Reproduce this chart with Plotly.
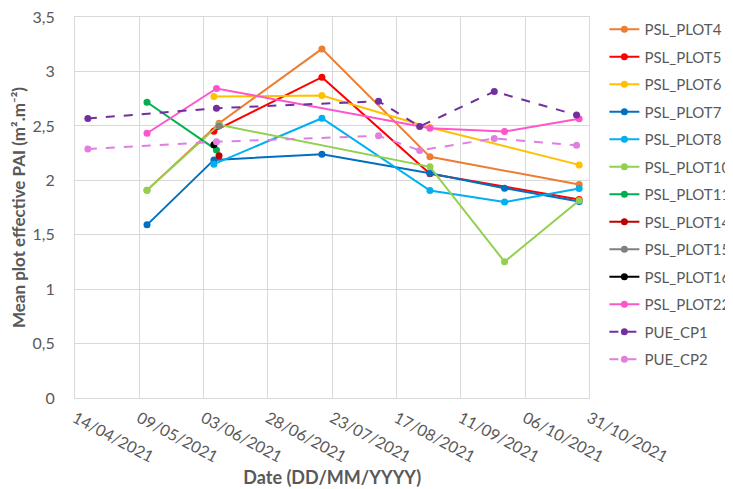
import plotly.graph_objects as go

# ---- data ----
series_names = ["PSL_PLOT4", "PSL_PLOT5", "PSL_PLOT6", "PSL_PLOT7", "PSL_PLOT8",
                "PSL_PLOT10", "PSL_PLOT11", "PSL_PLOT14", "PSL_PLOT15", "PSL_PLOT16",
                "PSL_PLOT22", "PUE_CP1", "PUE_CP2"]

plot4_dates = ["2021-05-12", "2021-06-09", "2021-07-19", "2021-08-30", "2021-10-27"]
plot4_vals = [1.91, 2.525, 3.208, 2.216, 1.962]
plot5_dates = ["2021-06-07", "2021-07-19", "2021-08-30", "2021-10-27"]
plot5_vals = [2.452, 2.948, 2.06, 1.825]
plot6_dates = ["2021-06-07", "2021-07-19", "2021-08-30", "2021-10-27"]
plot6_vals = [2.77, 2.78, 2.486, 2.142]
plot7_dates = ["2021-05-12", "2021-06-07", "2021-07-19", "2021-08-30", "2021-09-28", "2021-10-27"]
plot7_vals = [1.591, 2.188, 2.24, 2.066, 1.928, 1.806]
plot8_dates = ["2021-06-07", "2021-07-19", "2021-08-30", "2021-09-28", "2021-10-27"]
plot8_vals = [2.149, 2.571, 1.907, 1.80, 1.926]
plot10_dates = ["2021-05-12", "2021-06-09", "2021-08-30", "2021-09-28", "2021-10-27"]
plot10_vals = [1.91, 2.51, 2.124, 1.252, 1.815]
plot11_dates = ["2021-05-12", "2021-06-08"]
plot11_vals = [2.718, 2.28]
plot14_dates = ["2021-06-09"]
plot14_vals = [2.225]
plot15_dates = ["2021-06-09"]
plot15_vals = [2.50]
plot16_dates = ["2021-06-07"]
plot16_vals = [2.326]
plot22_dates = ["2021-05-12", "2021-06-08", "2021-08-30", "2021-09-28", "2021-10-27"]
plot22_vals = [2.433, 2.844, 2.479, 2.449, 2.565]
cp_dates = ["2021-04-19", "2021-06-08", "2021-08-10", "2021-08-26", "2021-09-24", "2021-10-26"]
cp1_vals = [2.568, 2.663, 2.727, 2.495, 2.816, 2.60]
cp2_vals = [2.287, 2.354, 2.409, 2.275, 2.385, 2.323]

tick_dates = ["2021-04-14", "2021-05-09", "2021-06-03", "2021-06-28", "2021-07-23",
              "2021-08-17", "2021-09-11", "2021-10-06", "2021-10-31"]
tick_labels = ["14/04/2021", "09/05/2021", "03/06/2021", "28/06/2021", "23/07/2021",
               "17/08/2021", "11/09/2021", "06/10/2021", "31/10/2021"]

# ---- styles ----
xs = [plot4_dates, plot5_dates, plot6_dates, plot7_dates, plot8_dates, plot10_dates,
      plot11_dates, plot14_dates, plot15_dates, plot16_dates, plot22_dates, cp_dates, cp_dates]
ys = [plot4_vals, plot5_vals, plot6_vals, plot7_vals, plot8_vals, plot10_vals,
      plot11_vals, plot14_vals, plot15_vals, plot16_vals, plot22_vals, cp1_vals, cp2_vals]
colors = ["#ED7D31", "#FF0000", "#FFC000", "#0070C0", "#00B0F0", "#92D050",
          "#00B050", "#C00000", "#808080", "#000000", "#FF55CC", "#7030A0", "#E07FDF"]
dashes = ["solid"] * 11 + ["dash", "dash"]

fig = go.Figure()
for name, x, y, c, d in zip(series_names, xs, ys, colors, dashes):
    fig.add_trace(go.Scatter(
        x=x, y=y, name=name, mode="lines+markers", legendgroup=name,
        line=dict(color=c, width=2, dash=d),
        marker=dict(color=c, size=7),
    ))

W, H = 733, 489
ML, MR, MT, MB = 67, 5, 5, 99
pw, ph = W - ML - MR, H - MT - MB
x_dom_end = (583 - ML) / pw
y_dom_end = (H - MB - 9) / ph

font_family = "Lato, 'Open Sans', sans-serif"
grid = "#D9D9D9"
fig.update_layout(
    width=W, height=H,
    margin=dict(l=ML, r=MR, t=MT, b=MB),
    paper_bgcolor="white", plot_bgcolor="white",
    separators=", ",
    font=dict(family=font_family, color="#595959", size=15),
    legend=dict(x=(598 - ML) / pw, y=1.0, xanchor="left", yanchor="top",
                font=dict(size=15, color="#595959"),
                tracegroupgap=5, itemwidth=30,
                bgcolor="rgba(0,0,0,0)"),
    showlegend=True,
)
fig.update_xaxes(
    type="date", range=[tick_dates[0], tick_dates[-1]], domain=[0, x_dom_end],
    tickvals=tick_dates, ticktext=tick_labels, tickangle=28,
    tickfont=dict(size=16, color="#595959"), ticklabelstandoff=4,
    showgrid=True, gridcolor=grid, gridwidth=1, automargin=False,
    showline=True, linecolor=grid, mirror=True, zeroline=False,
    ticklabeloverflow="allow",
    title=dict(text="<b>Date (DD/MM/YYYY)</b>", font=dict(size=18, color="#595959"), standoff=0),
)
fig.update_yaxes(
    range=[0, 3.501], tick0=0, dtick=0.5, domain=[0, y_dom_end],
    tickfont=dict(size=16, color="#595959"),
    showgrid=True, gridcolor=grid, gridwidth=1, automargin=False,
    showline=True, linecolor=grid, mirror=True, zeroline=False,
    ticks="", ticklabelstandoff=16, ticklabeloverflow="allow",
    title=dict(text="<b>Mean plot effective PAI (m².m⁻²)</b>", font=dict(size=17, color="#595959"), standoff=4),
)

fig.write_html("out.html")
